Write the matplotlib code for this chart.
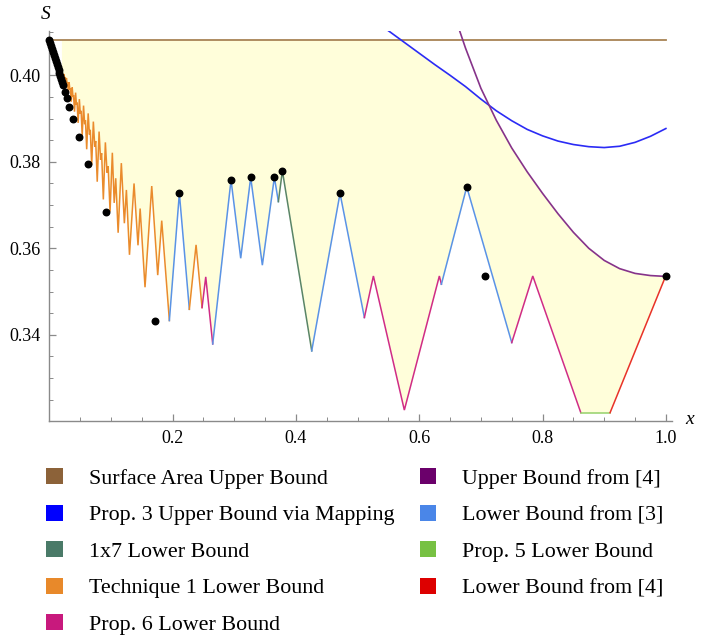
import numpy as np
import matplotlib
matplotlib.use("Agg")
import matplotlib.pyplot as plt
from matplotlib.patches import Patch

plt.rcParams['font.family'] = ['Liberation Serif', 'DejaVu Serif']

# --- data ---
surface_x = [0.0, 1.0]
surface_y = [0.4082, 0.4082]

# Prop. 3 upper bound via mapping (blue)
prop3_x = [0.550, 0.575, 0.600, 0.625, 0.650, 0.675, 0.700, 0.725, 0.750, 0.775,
           0.800, 0.825, 0.850, 0.875, 0.900, 0.925, 0.950, 0.975, 1.000]
prop3_y = [0.4103, 0.4077, 0.4051, 0.4025, 0.4000, 0.3974, 0.3945, 0.3918, 0.3895, 0.3875,
           0.3860, 0.3848, 0.3840, 0.3835, 0.3833, 0.3836, 0.3845, 0.3859, 0.3877]

# upper bound from [4] (purple)
ub4_x = [0.665, 0.675, 0.700, 0.725, 0.750, 0.775, 0.800, 0.825, 0.850, 0.875,
         0.900, 0.925, 0.950, 0.975, 1.000]
ub4_y = [0.4105, 0.4063, 0.3970, 0.3896, 0.3832, 0.3777, 0.3727, 0.3680, 0.3637, 0.3600,
         0.3572, 0.3553, 0.3542, 0.3537, 0.3535]

# lower boundary, vertex by vertex; lower_src[i] = bound that gives segment i -> i+1
lower_x = [0.0200, 0.0225, 0.0237, 0.0246, 0.0253, 0.0264, 0.0277, 0.0288, 0.0295, 0.0307,
           0.0321, 0.0333, 0.0342, 0.0355, 0.0371, 0.0384, 0.0393, 0.0408, 0.0426, 0.0440,
           0.0450, 0.0467, 0.0487, 0.0503, 0.0515, 0.0533, 0.0555, 0.0573, 0.0586, 0.0606,
           0.0630, 0.0651, 0.0664, 0.0687, 0.0714, 0.0737, 0.0752, 0.0777, 0.0807, 0.0831,
           0.0848, 0.0876, 0.0909, 0.0936, 0.0954, 0.0985, 0.1022, 0.1052, 0.1077, 0.1116,
           0.1168, 0.1217, 0.1250, 0.1300, 0.1374, 0.1438, 0.1473, 0.1552, 0.1661, 0.1758,
           0.1823, 0.1947, 0.2109, 0.2271, 0.2380, 0.2477, 0.2537, 0.2650, 0.2947, 0.3104,
           0.3266, 0.3455, 0.3650, 0.3715, 0.3780, 0.4256, 0.4715, 0.5110, 0.5256, 0.5758,
           0.6326, 0.6359, 0.6770, 0.7500, 0.7841, 0.8620, 0.9095, 1.0000]
lower_y = [0.4010, 0.3996, 0.4003, 0.3994, 0.3996, 0.3979, 0.3994, 0.3981, 0.3983, 0.3960,
           0.3984, 0.3967, 0.3969, 0.3939, 0.3972, 0.3950, 0.3954, 0.3916, 0.3960, 0.3932,
           0.3937, 0.3890, 0.3945, 0.3911, 0.3918, 0.3861, 0.3930, 0.3887, 0.3896, 0.3829,
           0.3912, 0.3863, 0.3874, 0.3793, 0.3893, 0.3835, 0.3848, 0.3754, 0.3870, 0.3805,
           0.3820, 0.3713, 0.3845, 0.3775, 0.3790, 0.3685, 0.3821, 0.3705, 0.3762, 0.3636,
           0.3797, 0.3658, 0.3735, 0.3585, 0.3750, 0.3607, 0.3692, 0.3510, 0.3744, 0.3538,
           0.3664, 0.3433, 0.3727, 0.3459, 0.3608, 0.3463, 0.3534, 0.3379, 0.3758, 0.3577,
           0.3764, 0.3561, 0.3764, 0.3708, 0.3779, 0.3363, 0.3727, 0.3440, 0.3536, 0.3226,
           0.3536, 0.3517, 0.3742, 0.3382, 0.3536, 0.3220, 0.3220, 0.3537]
lower_src = ['T1'] * 61 + ['LB3', 'LB3', 'T1', 'T1', 'P6', 'P6',
             'LB3', 'LB3', 'LB3', 'LB3', 'LB3', 'LB3', '1x7', '1x7',
             'LB3', 'LB3', 'P6', 'P6', 'P6', 'P6', 'LB3', 'LB3', 'P6', 'P6', 'P5', 'LB4']

dots_x = [0.0000, 0.0015, 0.0030, 0.0045, 0.0060, 0.0075, 0.0090, 0.0105, 0.0120, 0.0135,
          0.0150, 0.0165, 0.0180, 0.0195, 0.0210, 0.0225, 0.0255, 0.0282, 0.0324, 0.0389,
          0.0482, 0.0633, 0.0920, 0.1715, 0.2109, 0.2947, 0.3266, 0.3650, 0.3780, 0.4715,
          0.6770, 0.7067, 1.0000]
dots_y = [0.4082, 0.4075, 0.4068, 0.4061, 0.4054, 0.4047, 0.4040, 0.4033, 0.4026, 0.4019,
          0.4012, 0.4005, 0.3998, 0.3991, 0.3984, 0.3977, 0.3962, 0.3947, 0.3926, 0.3899,
          0.3858, 0.3795, 0.3683, 0.3431, 0.3727, 0.3758, 0.3764, 0.3764, 0.3779, 0.3727,
          0.3742, 0.3536, 0.3537]

labels = {
    'SA': 'Surface Area Upper Bound',
    'P3': 'Prop. 3 Upper Bound via Mapping',
    '1x7': '1x7 Lower Bound',
    'T1': 'Technique 1 Lower Bound',
    'P6': 'Prop. 6 Lower Bound',
    'UB4': 'Upper Bound from [4]',
    'LB3': 'Lower Bound from [3]',
    'P5': 'Prop. 5 Lower Bound',
    'LB4': 'Lower Bound from [4]',
}
legend_colors = {'SA': '#8C6239', 'P3': '#0000FF', '1x7': '#4A7A68', 'T1': '#E8892A',
                 'P6': '#C8197D', 'UB4': '#6B006B', 'LB3': '#4A86E8', 'P5': '#77C143',
                 'LB4': '#DD0000'}
line_colors = {'SA': '#A88455', 'P3': '#2B2BF5', '1x7': '#5A8566', 'T1': '#EA8B2C',
               'P6': '#D02C86', 'UB4': '#86338A', 'LB3': '#5A93E6', 'P5': '#95D16A',
               'LB4': '#E8322A'}

fig = plt.figure(figsize=(7.18, 6.37), dpi=100)
ax = fig.add_axes([0.0687, 0.3386, 0.8673, 0.6124])

# yellow region between the bounds
xs = np.union1d(np.linspace(0.02, 1.0, 2000), lower_x)
top = np.minimum(surface_y[0], np.interp(xs, prop3_x, prop3_y, left=np.inf))
top = np.minimum(top, np.interp(xs, ub4_x, ub4_y, left=np.inf))
bot = np.interp(xs, lower_x, lower_y)
ax.fill_between(xs, bot, top, color='#FFFEDA', lw=0, zorder=1)
ax.plot([0.02, 0.02], [lower_y[0], surface_y[0]], color='#FFFEDA', lw=0.8, zorder=1)

ax.plot(surface_x, surface_y, color=line_colors['SA'], lw=1.3, zorder=3)
ax.plot(prop3_x, prop3_y, color=line_colors['P3'], lw=1.2, zorder=3)
ax.plot(ub4_x, ub4_y, color=line_colors['UB4'], lw=1.2, zorder=3)

# lower boundary, grouped in runs of one source
i = 0
while i < len(lower_src):
    j = i
    while j + 1 < len(lower_src) and lower_src[j + 1] == lower_src[i]:
        j += 1
    ax.plot(lower_x[i:j + 2], lower_y[i:j + 2], color=line_colors[lower_src[i]],
            lw=1.1, zorder=3, solid_joinstyle='miter')
    i = j + 1

ax.scatter(dots_x, dots_y, s=22, color='black', zorder=5, clip_on=False)

ax.set_xlim(0, 1.01)
ax.set_ylim(0.32, 0.4102)
for s in ['top', 'right']:
    ax.spines[s].set_visible(False)
for s in ['left', 'bottom']:
    ax.spines[s].set_color('#8A8A8A')
    ax.spines[s].set_linewidth(1.0)
ax.set_xticks([0.2, 0.4, 0.6, 0.8, 1.0])
ax.set_xticklabels(['0.2', '0.4', '0.6', '0.8', '1.0'])
ax.set_xticks(np.arange(0.05, 1.001, 0.05), minor=True)
ax.set_yticks([0.34, 0.36, 0.38, 0.40])
ax.set_yticklabels(['0.34', '0.36', '0.38', '0.40'])
ax.set_yticks(np.arange(0.325, 0.4101, 0.005), minor=True)
ax.tick_params(which='both', direction='in', color='#8A8A8A', labelsize=13)
ax.tick_params(which='major', length=5, width=0.9, pad=6)
ax.tick_params(which='minor', length=3, width=0.7)

fig.text(0.063, 0.977, 'S', fontsize=14, style='italic', ha='center', va='center')
fig.text(0.961, 0.341, 'x', fontsize=14, style='italic', ha='center', va='center')

order = ['SA', 'P3', '1x7', 'T1', 'P6', 'UB4', 'LB3', 'P5', 'LB4']
handles = [Patch(facecolor=legend_colors[k], edgecolor='none', label=labels[k]) for k in order]
fig.legend(handles=handles, ncol=2, loc='upper left', bbox_to_anchor=(0.052, 0.279),
           frameon=False, fontsize=15.8, handlelength=0.75, handleheight=0.75,
           handletextpad=1.2, columnspacing=1.15, labelspacing=0.72, borderaxespad=0)

fig.savefig('out.png', dpi=100)
